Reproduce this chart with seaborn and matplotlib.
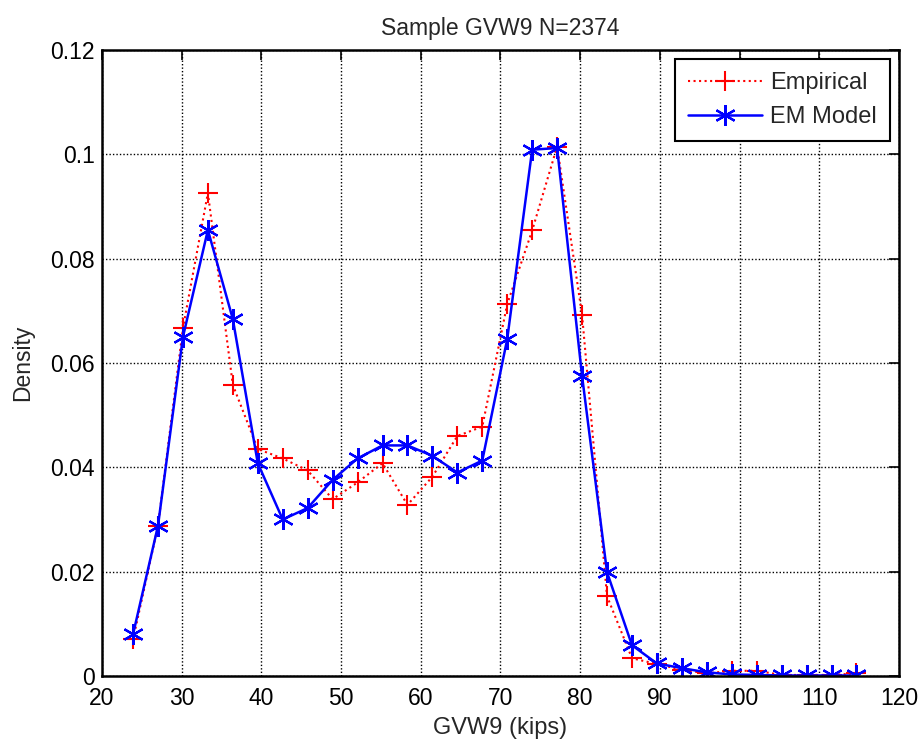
import matplotlib
matplotlib.use("Agg")
import matplotlib.pyplot as plt
import seaborn as sns
import pandas as pd

x_kips = [23.9, 27.03, 30.16, 33.29, 36.42, 39.55, 42.68, 45.81, 48.94, 52.07,
          55.2, 58.33, 61.46, 64.59, 67.72, 70.85, 73.98, 77.11, 80.24, 83.37,
          86.5, 89.63, 92.76, 95.89, 99.02, 102.15, 105.28, 108.41, 111.54, 114.67]
empirical = [0.0070, 0.0288, 0.0667, 0.0926, 0.0558, 0.0435, 0.0417, 0.0394, 0.0339, 0.0371,
             0.0408, 0.0328, 0.0382, 0.0460, 0.0478, 0.0713, 0.0854, 0.1015, 0.0692, 0.0153,
             0.0034, 0.0023, 0.0012, 0.0005, 0.0010, 0.0010, 0.0002, 0.0002, 0.0002, 0.0005]
em_model = [0.0080, 0.0288, 0.0650, 0.0855, 0.0684, 0.0408, 0.0300, 0.0322, 0.0376, 0.0417,
            0.0442, 0.0442, 0.0422, 0.0390, 0.0413, 0.0646, 0.1009, 0.1012, 0.0575, 0.0199,
            0.0059, 0.0024, 0.0015, 0.0007, 0.0003, 0.0002, 0.0001, 0.0001, 0.0001, 0.0001]
series_names = ["Empirical", "EM Model"]
x_ticks = [20, 30, 40, 50, 60, 70, 80, 90, 100, 110, 120]
y_ticks = [0, 0.02, 0.04, 0.06, 0.08, 0.1, 0.12]
y_tick_labels = ["0", "0.02", "0.04", "0.06", "0.08", "0.1", "0.12"]

sns.set_theme(style="white")
plt.rcParams["font.family"] = ["Liberation Sans", "DejaVu Sans"]

df_emp = pd.DataFrame({"x": x_kips, "y": empirical})
df_em = pd.DataFrame({"x": x_kips, "y": em_model})

fig = plt.figure(figsize=(9.22, 7.44), dpi=100)
ax = fig.add_axes([0.1106, 0.0914, 0.8644, 0.8414])

sns.lineplot(data=df_emp, x="x", y="y", ax=ax, estimator=None, sort=False,
             color="red", linestyle=":", linewidth=1.5, marker="+",
             markersize=15, markeredgewidth=1.5, markeredgecolor="red",
             markerfacecolor="red", label=series_names[0])
sns.lineplot(data=df_em, x="x", y="y", ax=ax, estimator=None, sort=False,
             color="blue", linestyle="-", linewidth=1.8, marker=(6, 2, 0),
             markersize=15, markeredgewidth=1.6, markeredgecolor="blue",
             markerfacecolor="blue", label=series_names[1])

ax.set_xlim(20, 120)
ax.set_ylim(0, 0.12)
ax.set_xticks(x_ticks)
ax.set_yticks(y_ticks)
ax.set_yticklabels(y_tick_labels)
ax.tick_params(direction="in", length=7, width=1.2, top=True, right=True,
               labelsize=16.5, colors="black")
ax.tick_params(axis="x", pad=8)
ax.tick_params(axis="y", pad=5)
for s in ax.spines.values():
    s.set_color("black")
    s.set_linewidth(1.8)
    s.set_visible(True)
ax.grid(True, color="black", linestyle=(0, (1, 1.5)), linewidth=1.0)
ax.set_axisbelow(True)

ax.set_title("Sample GVW9 N=2374", fontsize=16.5, pad=11)
ax.set_xlabel("GVW9 (kips)", fontsize=17, labelpad=5)
ax.set_ylabel("Density", fontsize=16.5, labelpad=12)

leg = ax.legend(loc="upper right", fontsize=17, fancybox=False, framealpha=1,
                edgecolor="black", handlelength=3.1, handletextpad=0.35,
                borderpad=0.55, labelspacing=0.5, borderaxespad=0.4)
leg.get_frame().set_linewidth(1.5)

fig.savefig("out.png", dpi=100)
